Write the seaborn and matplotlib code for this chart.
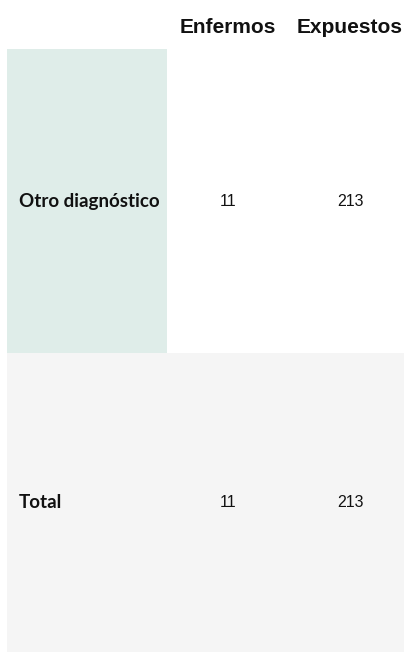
import numpy as np
import pandas as pd
import matplotlib
matplotlib.use("Agg")
import matplotlib.pyplot as plt
from matplotlib.colors import ListedColormap
import seaborn as sns

# ---- data ----
row_labels = ["Otro diagnóstico", "Total"]
col_labels = ["Enfermos", "Expuestos"]
enfermos = [11, 11]
expuestos = [213, 213]

sns.set_theme(style="white")
plt.rcParams['font.family'] = ['Liberation Sans', 'DejaVu Sans']

W, H = 404, 652
fig = plt.figure(figsize=(W / 100, H / 100), dpi=100)

GREEN = "#DFEDE9"
GRAY = "#F5F5F5"
WHITE = "#FFFFFF"

row_edges = [49, 353, 652]
left, split, right = 7, 167, 411
label_bg = [GREEN, GRAY]
value_bg = [WHITE, GRAY]

def fig_rect(x0, x1, y0, y1):
    return [x0 / W, 1 - y1 / H, (x1 - x0) / W, (y1 - y0) / H]

val_df = pd.DataFrame({col_labels[0]: enfermos, col_labels[1]: expuestos}, index=row_labels)

for i, lab in enumerate(row_labels):
    y0, y1 = row_edges[i], row_edges[i + 1]
    # label cell
    ax_l = fig.add_axes(fig_rect(left, split, y0, y1))
    sns.heatmap(pd.DataFrame({"c": [0]}, index=[lab]), ax=ax_l,
                cmap=ListedColormap([label_bg[i]]), vmin=-0.5, vmax=0.5,
                cbar=False, annot=False, xticklabels=False, yticklabels=False)
    ax_l.text(0.075, 0.5, lab, ha="left", va="center", fontsize=13.5,
              fontweight="bold", family=["Lato", "DejaVu Sans"], color="#111111")
    # value cells
    ax_v = fig.add_axes(fig_rect(split, right, y0, y1))
    sns.heatmap(np.zeros((1, 2)), ax=ax_v, cmap=ListedColormap([value_bg[i]]),
                vmin=-0.5, vmax=0.5, cbar=False,
                annot=val_df.iloc[[i]].values, fmt="d",
                annot_kws={"fontsize": 11.5, "color": "#111111"},
                xticklabels=False, yticklabels=False)
    if i == 0:
        for j, c in enumerate(col_labels):
            ax_v.text(j + 0.5, -0.072, c, ha="center", va="center", fontsize=15,
                      fontweight="bold", color="#111111", clip_on=False)
    for ax in (ax_l, ax_v):
        for s in ax.spines.values():
            s.set_visible(False)

fig.savefig("out.png", dpi=100, facecolor="white")
